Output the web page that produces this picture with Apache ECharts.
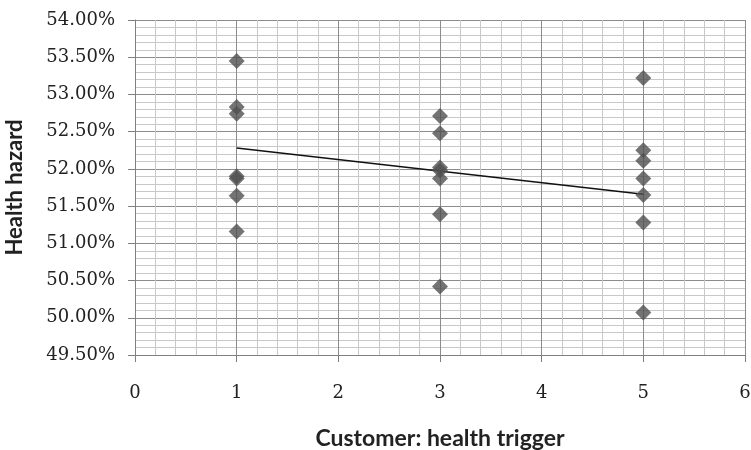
<!DOCTYPE html>
<html>
<head>
<meta charset="utf-8">
<script src="https://cdn.jsdelivr.net/npm/echarts@6/dist/echarts.min.js"></script>
<style>html,body{margin:0;padding:0;background:#fff;}#c{width:751px;height:450px;}</style>
</head>
<body>
<div id="c"></div>
<script>
// Data
const xValues = [1,1,1,1,1,1,1, 3,3,3,3,3,3,3, 5,5,5,5,5,5,5];
const yValues = [53.45,52.83,52.74,51.90,51.87,51.64,51.16,
                 52.71,52.48,52.02,51.98,51.87,51.39,50.42,
                 53.22,52.25,52.11,51.87,51.65,51.28,50.07];
const trendX = [1, 5];
const trendY = [52.28, 51.66];
const xTitle = 'Customer: health trigger';
const yTitle = 'Health hazard';

const points = xValues.map((x, i) => [x, yValues[i]]);
const trend = trendX.map((x, i) => [x, trendY[i]]);

const chart = echarts.init(document.getElementById('c'), null, {renderer: 'canvas'});
chart.setOption({
  animation: false,
  backgroundColor: '#fff',
  grid: {left: 135, right: 6, top: 20, bottom: 95, outerBoundsMode: 'none', containLabel: false},
  xAxis: {
    type: 'value', min: 0, max: 6, interval: 1,
    name: xTitle, nameLocation: 'middle', nameGap: 72,
    nameTextStyle: {fontFamily: 'Lato', fontWeight: 'bold', fontSize: 23, color: '#222'},
    axisLine: {show: true, lineStyle: {color: '#808080', width: 1}},
    axisTick: {show: true, length: 7, lineStyle: {color: '#808080'}},
    axisLabel: {margin: 29, fontFamily: 'DejaVu Serif', fontSize: 18, color: '#222'},
    splitLine: {show: true, lineStyle: {color: '#8c8c8c', width: 1}},
    minorTick: {show: false, splitNumber: 5},
    minorSplitLine: {show: true, lineStyle: {color: '#c8c8c8', width: 1}}
  },
  yAxis: {
    type: 'value', min: 49.5, max: 54, interval: 0.5,
    name: yTitle, nameLocation: 'middle', nameGap: 109,
    nameTextStyle: {fontFamily: 'Lato', fontWeight: 'bold', fontSize: 22, color: '#222'},
    axisLine: {show: true, lineStyle: {color: '#808080', width: 1}},
    axisTick: {show: true, length: 7, lineStyle: {color: '#808080'}},
    axisLabel: {margin: 20, fontFamily: 'DejaVu Serif', fontSize: 18, color: '#222',
      formatter: v => v.toFixed(2) + '%'},
    splitLine: {show: true, lineStyle: {color: '#8c8c8c', width: 1}},
    minorTick: {show: false, splitNumber: 5},
    minorSplitLine: {show: true, lineStyle: {color: '#c8c8c8', width: 1}}
  },
  series: [
    {
      type: 'line', data: trend, symbol: 'none', silent: true,
      lineStyle: {color: '#111', width: 1.5}, z: 3
    },
    {
      type: 'scatter', data: points, symbol: 'diamond', symbolSize: 16,
      itemStyle: {color: '#505050'}, z: 4
    }
  ]
});
</script>
</body>
</html>
